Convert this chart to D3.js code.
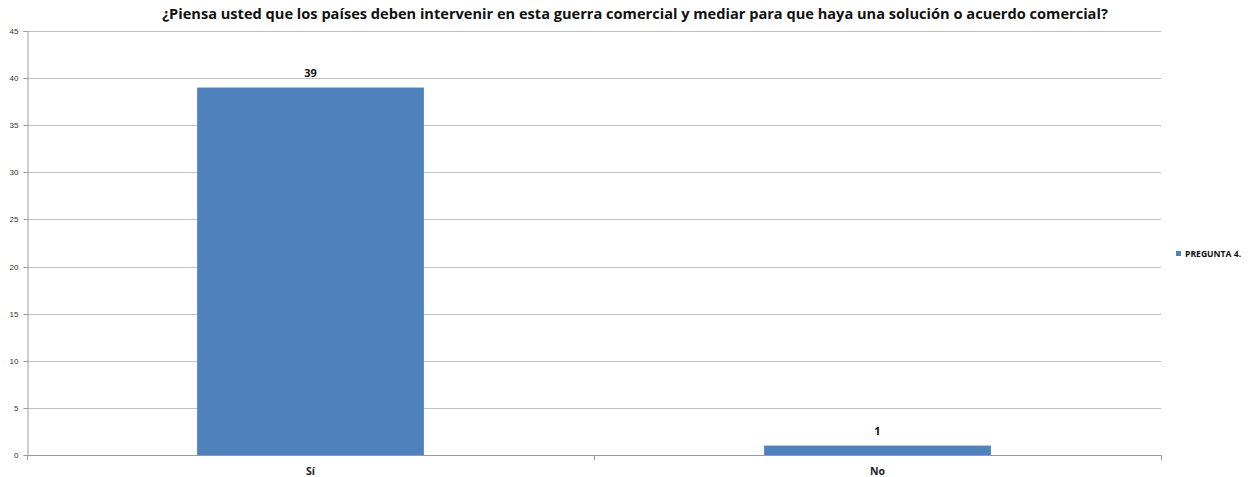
<!DOCTYPE html>
<html>
<head>
<meta charset="utf-8">
<script src="https://cdn.jsdelivr.net/npm/d3@7"></script>
<style>
  body { margin: 0; background: #fff; }
  svg { display: block; font-family: "Open Sans", "Noto Sans", sans-serif; }
</style>
</head>
<body>
<svg id="chart" width="1251" height="477"></svg>
<script>
// Survey answers for question 4
const categories = ["Sí", "No"];
const values = [39, 1];
const yTicks = [0, 5, 10, 15, 20, 25, 30, 35, 40, 45];
const seriesName = "PREGUNTA 4.";
const title = "¿Piensa usted que los países deben intervenir en esta guerra comercial y mediar para que haya una solución o acuerdo comercial?";

const svg = d3.select("#chart");
const plot = { left: 27, right: 1161, top: 31, bottom: 455 };

const x = d3.scaleBand().domain(categories).range([plot.left, plot.right]).paddingInner(0.6).paddingOuter(0.3);
const xOuter = d3.scaleBand().domain(categories).range([plot.left, plot.right]);
const y = d3.scaleLinear().domain([0, 45]).range([plot.bottom, plot.top]);

// Title
svg.append("text")
  .attr("x", 635).attr("y", 19)
  .attr("text-anchor", "middle")
  .attr("font-size", 14.6).attr("font-weight", "bold").attr("fill", "#111")
  .text(title);

// Horizontal gridlines
svg.append("g").selectAll("line").data(yTicks.filter(d => d > 0)).join("line")
  .attr("x1", plot.left).attr("x2", plot.right)
  .attr("y1", d => Math.round(y(d)) + 0.5).attr("y2", d => Math.round(y(d)) + 0.5)
  .attr("stroke", "#c0c0c0").attr("stroke-width", 1);

// Y axis
const yAxis = svg.append("g")
  .attr("transform", `translate(${plot.left + 0.5},0)`)
  .call(d3.axisLeft(y).tickValues(yTicks).tickSize(4).tickPadding(5));
yAxis.select(".domain").attr("stroke", "#9a9a9a");
yAxis.selectAll(".tick line").attr("stroke", "#9a9a9a");
yAxis.selectAll(".tick text").attr("font-size", 8).attr("fill", "#333");
yAxis.selectAll(".tick").attr("transform", d => `translate(0,${Math.round(y(d)) + 0.5})`);

// Bars
svg.append("g").selectAll("rect").data(values).join("rect")
  .attr("x", (d, i) => x(categories[i]))
  .attr("width", x.bandwidth())
  .attr("y", d => y(d))
  .attr("height", d => y(0) - y(d))
  .attr("fill", "#4f81bd");

// X axis line and category separators
svg.append("line")
  .attr("x1", plot.left).attr("x2", plot.right)
  .attr("y1", plot.bottom + 0.5).attr("y2", plot.bottom + 0.5)
  .attr("stroke", "#9a9a9a");
const sep = categories.map(c => xOuter(c)).concat([plot.right]);
svg.append("g").selectAll("line").data(sep).join("line")
  .attr("x1", d => Math.round(d) + 0.5).attr("x2", d => Math.round(d) + 0.5)
  .attr("y1", plot.bottom).attr("y2", plot.bottom + 5)
  .attr("stroke", "#9a9a9a");

// Category labels
svg.append("g").selectAll("text").data(categories).join("text")
  .attr("x", d => x(d) + x.bandwidth() / 2)
  .attr("y", 475)
  .attr("text-anchor", "middle")
  .attr("font-size", 10.5).attr("font-weight", "bold").attr("fill", "#222")
  .text(d => d);

// Value labels
svg.append("g").selectAll("text").data(values).join("text")
  .attr("x", (d, i) => x(categories[i]) + x.bandwidth() / 2)
  .attr("y", d => y(d) - 10.5)
  .attr("text-anchor", "middle")
  .attr("font-size", 11).attr("font-weight", "bold").attr("fill", "#111")
  .text(d => d);

// Legend
const legend = svg.append("g").attr("transform", "translate(1176,251)");
legend.append("rect").attr("width", 5).attr("height", 5).attr("fill", "#4f81bd");
legend.append("text").attr("x", 9).attr("y", 5.8)
  .attr("font-size", 8.6).attr("font-weight", "bold").attr("fill", "#111")
  .text(seriesName);
</script>
</body>
</html>
